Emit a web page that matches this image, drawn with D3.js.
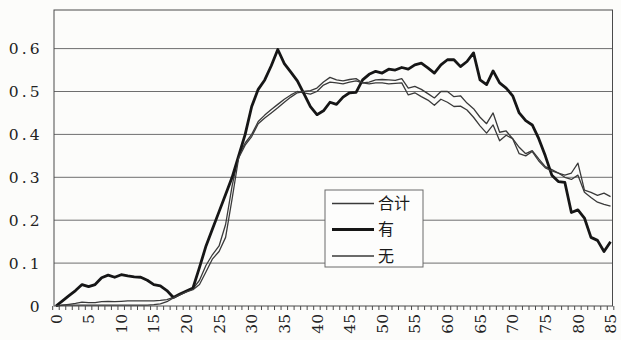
<!DOCTYPE html>
<html>
<head>
<meta charset="utf-8">
<script src="https://cdn.jsdelivr.net/npm/d3@7/dist/d3.min.js"></script>
<style>
  html, body { margin: 0; padding: 0; background: #fcfcfa; }
  svg { display: block; }
</style>
</head>
<body>
<svg id="chart" width="621" height="340"></svg>
<script>
// Ages 0..85 on the category axis
const ages = d3.range(0, 86);

// Share by age for each group
const totalValues = [
  0, 0.002, 0.004, 0.006, 0.009, 0.008, 0.008, 0.010, 0.011, 0.010,
  0.011, 0.012, 0.012, 0.012, 0.012, 0.012, 0.013, 0.015, 0.020, 0.027,
  0.034, 0.040, 0.060, 0.095, 0.120, 0.140, 0.190, 0.280, 0.350, 0.380,
  0.400, 0.430, 0.445, 0.458, 0.470, 0.482, 0.492, 0.500, 0.497, 0.494,
  0.500, 0.515, 0.522, 0.520, 0.518, 0.522, 0.525, 0.520, 0.522, 0.527,
  0.528, 0.527, 0.526, 0.530, 0.508, 0.512, 0.505, 0.495, 0.485, 0.500,
  0.500, 0.488, 0.490, 0.473, 0.460, 0.440, 0.425, 0.450, 0.405, 0.408,
  0.390, 0.370, 0.355, 0.362, 0.343, 0.325, 0.318, 0.310, 0.300, 0.295,
  0.305, 0.265, 0.253, 0.242, 0.237, 0.233
];

const withValues = [
  0, 0.012, 0.024, 0.036, 0.050, 0.045, 0.050, 0.066, 0.072, 0.067,
  0.073, 0.070, 0.068, 0.067, 0.060, 0.050, 0.047, 0.036, 0.020, 0.028,
  0.035, 0.042, 0.090, 0.140, 0.180, 0.220, 0.260, 0.300, 0.350, 0.400,
  0.465, 0.505, 0.527, 0.560, 0.598, 0.565, 0.545, 0.525, 0.495, 0.465,
  0.446, 0.455, 0.475, 0.470, 0.487, 0.497, 0.498, 0.527, 0.540, 0.547,
  0.543, 0.552, 0.550, 0.556, 0.552, 0.562, 0.566, 0.555, 0.543, 0.562,
  0.574, 0.574, 0.558, 0.570, 0.590, 0.527, 0.516, 0.548, 0.520, 0.508,
  0.490, 0.450, 0.432, 0.422, 0.390, 0.350, 0.305, 0.290, 0.288, 0.218,
  0.224, 0.205, 0.160, 0.153, 0.127, 0.150
];

const withoutValues = [
  0, 0.002, 0.002, 0.002, 0.002, 0.002, 0.002, 0.002, 0.002, 0.002,
  0.002, 0.002, 0.002, 0.002, 0.002, 0.003, 0.005, 0.010, 0.019, 0.026,
  0.033, 0.038, 0.050, 0.080, 0.110, 0.127, 0.160, 0.250, 0.345, 0.375,
  0.395, 0.425, 0.438, 0.450, 0.462, 0.475, 0.487, 0.497, 0.500, 0.502,
  0.508, 0.522, 0.533, 0.527, 0.525, 0.528, 0.530, 0.520, 0.518, 0.520,
  0.520, 0.518, 0.519, 0.520, 0.492, 0.497, 0.488, 0.480, 0.468, 0.482,
  0.475, 0.465, 0.466, 0.457, 0.440, 0.420, 0.403, 0.422, 0.385, 0.398,
  0.390, 0.355, 0.350, 0.360, 0.338, 0.322, 0.315, 0.310, 0.305, 0.310,
  0.333, 0.270, 0.265, 0.258, 0.263, 0.255
];

const yTicks = [0, 0.1, 0.2, 0.3, 0.4, 0.5, 0.6];
const xLabelAges = d3.range(0, 86, 5);

const seriesNames = ["合计", "有", "无"];

const series = [
  { name: seriesNames[0], values: totalValues,   width: 1.3, color: "#3a3a3a" },
  { name: seriesNames[1], values: withValues,    width: 2.8, color: "#161616" },
  { name: seriesNames[2], values: withoutValues, width: 1.3, color: "#3a3a3a" }
];

const plot = { left: 54, right: 612.5, top: 10, bottom: 306 };

const svg = d3.select("#chart");

const x = d3.scalePoint()
  .domain(ages)
  .range([plot.left, plot.right])
  .padding(0.3);

const y = d3.scaleLinear()
  .domain([0, 0.69])
  .range([plot.bottom, plot.top]);

// Horizontal gridlines
svg.append("g")
  .selectAll("line")
  .data(yTicks.filter(d => d > 0))
  .join("line")
  .attr("x1", plot.left)
  .attr("x2", plot.right)
  .attr("y1", d => y(d))
  .attr("y2", d => y(d))
  .attr("stroke", "#6e6e6e")
  .attr("stroke-width", 1);

// Plot frame
svg.append("rect")
  .attr("x", plot.left)
  .attr("y", plot.top)
  .attr("width", plot.right - plot.left)
  .attr("height", plot.bottom - plot.top)
  .attr("fill", "none")
  .attr("stroke", "#4a4a4a")
  .attr("stroke-width", 1);

// Y labels
svg.append("g")
  .selectAll("text")
  .data(yTicks)
  .join("text")
  .attr("x", 42.5)
  .attr("y", d => y(d))
  .attr("dy", "0.36em")
  .attr("text-anchor", "end")
  .attr("font-family", "DejaVu Serif")
  .attr("font-size", 15.5)
  .attr("letter-spacing", 3)
  .attr("fill", "#222")
  .text(d => d === 0 ? "0" : d3.format(".1f")(d));

// Category tick marks along the bottom axis
const step = x.step();
svg.append("g")
  .selectAll("line")
  .data(ages.concat([86]))
  .join("line")
  .attr("x1", d => (d < 86 ? x(d) : x(85) + step) - step / 2)
  .attr("x2", d => (d < 86 ? x(d) : x(85) + step) - step / 2)
  .attr("y1", plot.bottom)
  .attr("y2", plot.bottom + 4)
  .attr("stroke", "#4a4a4a")
  .attr("stroke-width", 1);

// Rotated age labels
svg.append("g")
  .selectAll("text")
  .data(xLabelAges)
  .join("text")
  .attr("transform", d => `translate(${x(d)},314) rotate(-90)`)
  .attr("dy", "0.36em")
  .attr("text-anchor", "end")
  .attr("font-family", "DejaVu Serif")
  .attr("font-size", 15.5)
  .attr("fill", "#222")
  .text(d => d);

// Series lines
const line = d3.line()
  .x((d, i) => x(ages[i]))
  .y(d => y(d));

svg.append("g")
  .selectAll("path")
  .data(series)
  .join("path")
  .attr("d", d => line(d.values))
  .attr("fill", "none")
  .attr("stroke", d => d.color)
  .attr("stroke-width", d => d.width)
  .attr("stroke-linejoin", "round");

// Legend
const legend = svg.append("g");
legend.append("rect")
  .attr("x", 325)
  .attr("y", 190)
  .attr("width", 98)
  .attr("height", 77)
  .attr("fill", "#fdfdfc")
  .attr("stroke", "#6a6a6a")
  .attr("stroke-width", 1);

const rowY = [203.5, 229.5, 256];
const rows = legend.selectAll("g.row")
  .data(series)
  .join("g")
  .attr("class", "row")
  .attr("transform", (d, i) => `translate(0,${rowY[i]})`);

rows.append("line")
  .attr("x1", 332)
  .attr("x2", 374)
  .attr("stroke", d => d.color)
  .attr("stroke-width", d => d.width);

rows.append("text")
  .attr("x", 378)
  .attr("dy", "0.36em")
  .attr("font-family", "Noto Sans CJK SC")
  .attr("font-size", 16)
  .attr("fill", "#1a1a1a")
  .text(d => d.name);
</script>
</body>
</html>
